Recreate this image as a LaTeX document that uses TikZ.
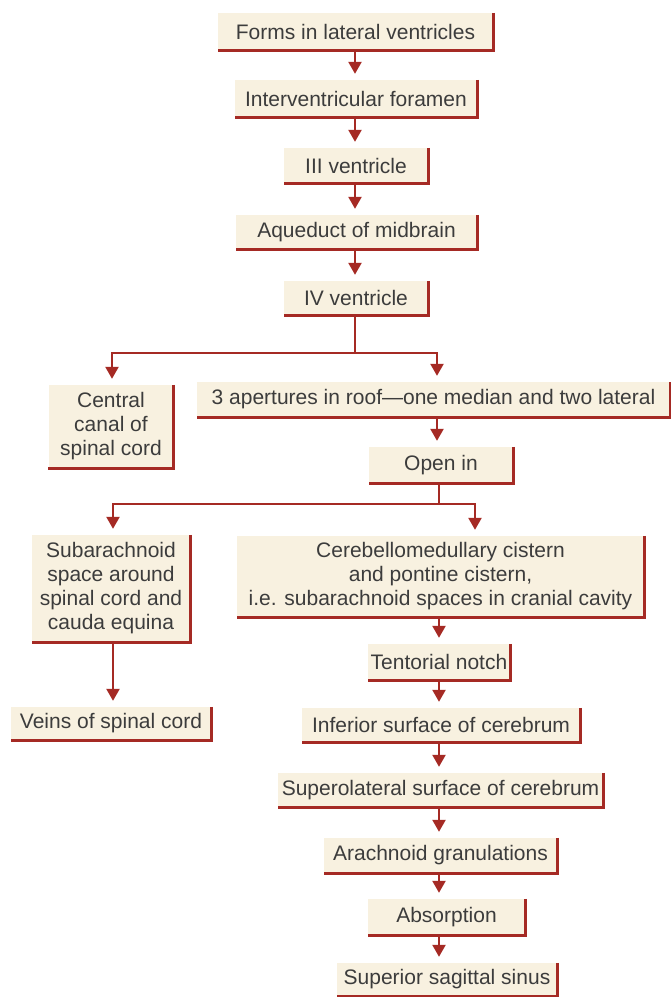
\documentclass[tikz,border=0pt]{standalone}
\usepackage{fontspec}
\setmainfont{Liberation Sans}
\usetikzlibrary{arrows.meta,calc}
\definecolor{boxfill}{RGB}{248,241,224}
\definecolor{dred}{RGB}{165,42,36}
\definecolor{txt}{RGB}{60,60,60}
\begin{document}
\begin{tikzpicture}[x=1pt,y=-1pt,
 box/.style={fill=boxfill, text=txt, inner sep=0pt, align=center, font=\fontsize{21}{24}\selectfont},
 rim/.style={draw=dred, line width=3pt, line join=miter},
 link/.style={draw=dred, line width=2.4pt},
 arr/.style={link, -{Triangle[width=13pt,length=12pt]}, shorten >=6pt}]
\useasboundingbox (0,0) rectangle (671,997);
\fill[white] (0,0) rectangle (671,997);

\node[box, minimum width=275pt, minimum height=37pt] (a) at (355.5,31.5) {Forms in lateral ventricles};
\node[box, minimum width=242pt, minimum height=37pt] (b) at (356,98.5) {Interventricular foramen};
\node[box, minimum width=144pt, minimum height=35pt] (c) at (356,165.5) {III ventricle};
\node[box, minimum width=241pt, minimum height=34pt] (d) at (356.5,232) {Aqueduct of midbrain};
\node[box, minimum width=144pt, minimum height=34pt] (e) at (356,298) {IV ventricle};
\node[box, minimum width=125pt, minimum height=83pt] (f) at (111,426.5) {Central\\canal of\\spinal cord};
\node[box, minimum width=473pt, minimum height=35pt] (g) at (433.5,399.5) {3 apertures in roof---one median and two lateral};
\node[box, minimum width=144pt, minimum height=36pt] (h) at (441,465) {Open in};
\node[box, minimum width=158pt, minimum height=107pt] (i) at (111,588.5) {Subarachnoid\\space around\\spinal cord and\\cauda equina};
\node[box, minimum width=407pt, minimum height=81pt] (j) at (440.5,576.5) {Cerebellomedullary cistern\\and pontine cistern,\\i.e. subarachnoid spaces in cranial cavity};
\node[box, minimum width=200pt, minimum height=33pt] (k) at (111,723.5) {Veins of spinal cord};
\node[box, minimum width=142pt, minimum height=36pt] (l) at (439,662) {Tentorial notch};
\node[box, minimum width=278pt, minimum height=34pt] (m) at (441,725) {Inferior surface of cerebrum};
\node[box, minimum width=325pt, minimum height=34pt] (n) at (440.5,790) {Superolateral surface of cerebrum};
\node[box, minimum width=233pt, minimum height=35pt] (o) at (440.5,855.5) {Arachnoid granulations};
\node[box, minimum width=157pt, minimum height=36pt] (p) at (446.5,917) {Absorption};
\node[box, minimum width=220pt, minimum height=33pt] (q) at (447,979.5) {Superior sagittal sinus};

\foreach \n in {a,b,c,d,e,f,g,h,i,j,k,l,m,n,o,p,q}
  \draw[rim] (\n.north east) -- (\n.south east) -- (\n.south west);

\coordinate (colA) at (355,0);
\coordinate (colB) at (439,0);
\coordinate (j1) at (355,353);
\coordinate (j1l) at (112,353);
\coordinate (j1r) at (437,353);
\coordinate (j2) at (439,504);
\coordinate (j2l) at (113,504);
\coordinate (j2r) at (475,504);

\draw[arr] (colA |- a.south) -- (colA |- b.north);
\draw[arr] (colA |- b.south) -- (colA |- c.north);
\draw[arr] (colA |- c.south) -- (colA |- d.north);
\draw[arr] (colA |- d.south) -- (colA |- e.north);
\draw[link] (colA |- e.south) -- (j1);
\draw[arr] (j1) -- (j1l) -- (j1l |- f.north);
\draw[arr] (j1) -- (j1r) -- (j1r |- g.north);
\draw[arr] (j1r |- g.south) -- (j1r |- h.north);
\draw[link] (colB |- h.south) -- (j2);
\draw[arr] (j2) -- (j2l) -- (j2l |- i.north);
\draw[arr] (j2) -- (j2r) -- (j2r |- j.north);
\draw[arr] (j2l |- i.south) -- (j2l |- k.north);
\draw[arr] (colB |- j.south) -- (colB |- l.north);
\draw[arr] (colB |- l.south) -- (colB |- m.north);
\draw[arr] (colB |- m.south) -- (colB |- n.north);
\draw[arr] (colB |- n.south) -- (colB |- o.north);
\draw[arr] (colB |- o.south) -- (colB |- p.north);
\draw[arr] (colB |- p.south) -- (colB |- q.north);
\end{tikzpicture}
\end{document}
